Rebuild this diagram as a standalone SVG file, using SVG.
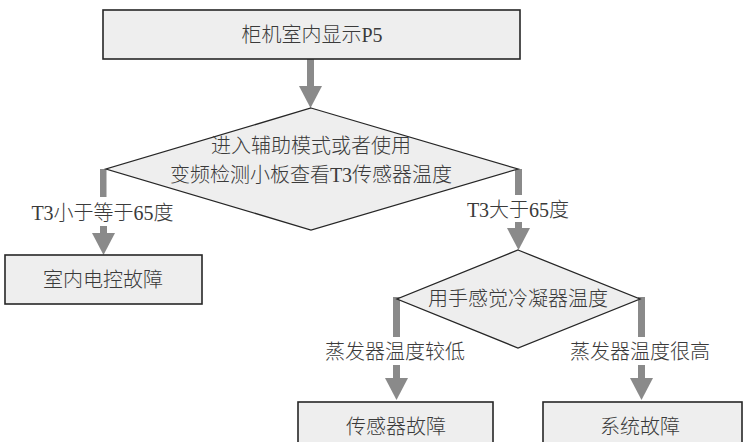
<svg xmlns="http://www.w3.org/2000/svg" width="746" height="442" viewBox="0 0 746 442">
<style>
.box{fill:#eeeeee;stroke:#262626;stroke-width:1.6}
.dia{fill:#eeeeee;stroke:#262626;stroke-width:1.3}
.t{font-family:"Liberation Serif","Noto Sans CJK SC",serif;font-size:20px;font-weight:300;fill:#3a3a3a;text-anchor:middle}
.ar{fill:#8a8a8a;stroke:none}
</style>
<rect width="746" height="442" fill="#ffffff"/>
<g id="connectors">
  <rect class="ar" x="307" y="59" width="7" height="27"/>
  <polygon class="ar" points="299,86 322,86 310.5,108"/>
  <rect class="ar" x="100" y="169" width="6.5" height="28"/>
  <rect class="ar" x="100" y="226" width="7" height="8"/>
  <polygon class="ar" points="92,233 115,233 103.5,255"/>
  <rect class="ar" x="515" y="169" width="7" height="26"/>
  <rect class="ar" x="515" y="222" width="7" height="7"/>
  <polygon class="ar" points="507,228 530,228 518.5,250"/>
  <rect class="ar" x="393" y="297" width="7" height="40"/>
  <rect class="ar" x="393" y="365" width="7" height="14"/>
  <polygon class="ar" points="385,378 408,378 396.5,400"/>
  <rect class="ar" x="638" y="297" width="7" height="40"/>
  <rect class="ar" x="638" y="365" width="7" height="14"/>
  <polygon class="ar" points="630,378 653,378 641.5,400"/>
  <text class="t" x="102.5" y="220">T3小于等于65度</text>
  <text class="t" x="518" y="217">T3大于65度</text>
  <text class="t" x="395" y="359">蒸发器温度较低</text>
  <text class="t" x="640" y="359">蒸发器温度很高</text>
</g>
<g id="n1">
  <rect class="box" x="103" y="10" width="417" height="49"/>
  <text class="t" x="312" y="42">柜机室内显示P5</text>
</g>
<g id="n2">
  <polygon class="dia" points="311,108 518,169 311,230 106,169"/>
  <text class="t" x="311" y="153">进入辅助模式或者使用</text>
  <text class="t" x="311" y="182">变频检测小板查看T3传感器温度</text>
</g>
<g id="n3">
  <rect class="box" x="5" y="255" width="197" height="49"/>
  <text class="t" x="103" y="287">室内电控故障</text>
</g>
<g id="n4">
  <polygon class="dia" points="518,250 640,299 518,348 397,299"/>
  <text class="t" x="518" y="306">用手感觉冷凝器温度</text>
</g>
<g id="n5">
  <rect class="box" x="298" y="402" width="195" height="50"/>
  <text class="t" x="396" y="434">传感器故障</text>
</g>
<g id="n6">
  <rect class="box" x="543" y="402" width="199" height="50"/>
  <text class="t" x="640" y="434">系统故障</text>
</g>
</svg>
